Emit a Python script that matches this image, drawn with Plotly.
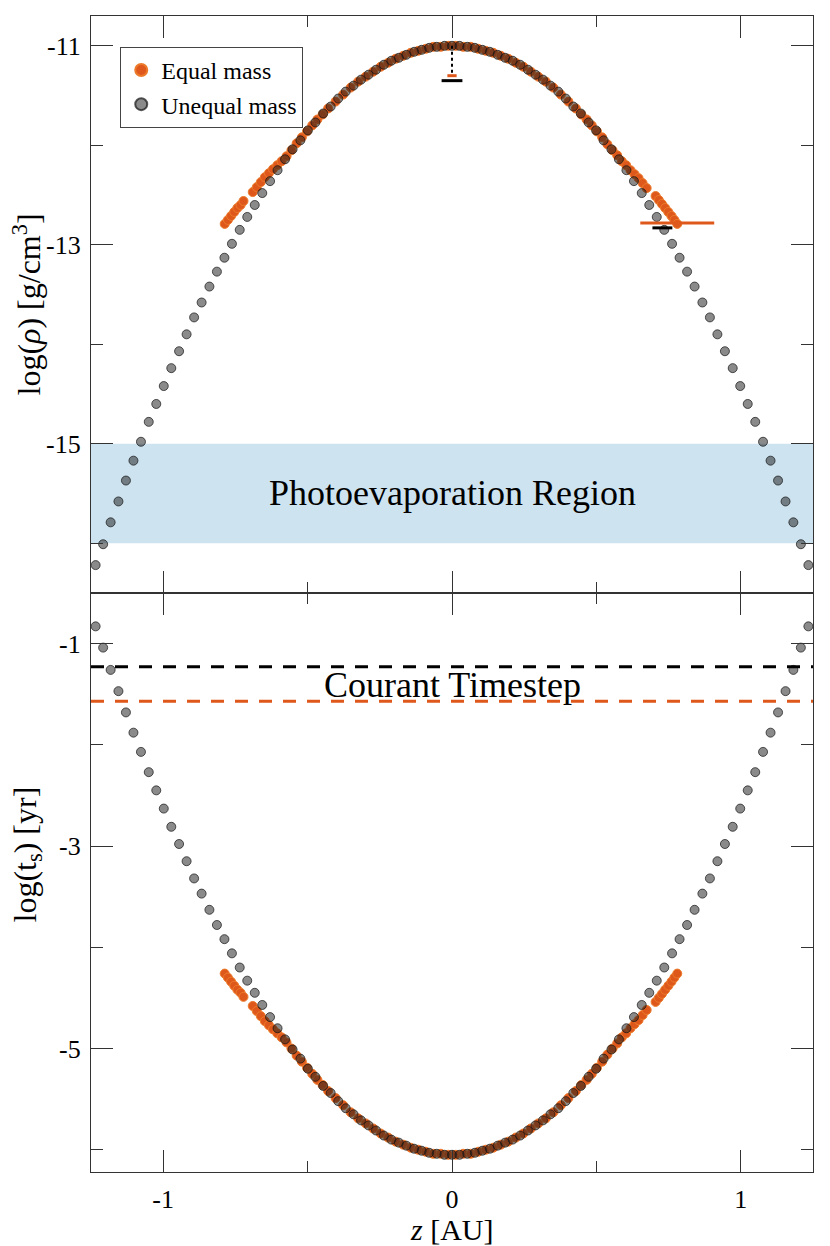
import plotly.graph_objects as go

# unequal mass run (grey)
z_uneq = [-1.234, -1.208, -1.182, -1.155, -1.129, -1.103, -1.077, -1.050, -1.024, -0.998,
          -0.972, -0.945, -0.919, -0.893, -0.867, -0.840, -0.814, -0.788, -0.762, -0.735,
          -0.709, -0.683, -0.657, -0.630, -0.604, -0.578, -0.552, -0.525, -0.499, -0.473,
          -0.446, -0.420, -0.394, -0.368, -0.341, -0.315, -0.289, -0.263, -0.236, -0.210,
          -0.184, -0.158, -0.131, -0.105, -0.079, -0.053, -0.026, 0.000,
          0.026, 0.053, 0.079, 0.105, 0.131, 0.158, 0.184, 0.210, 0.236, 0.263,
          0.289, 0.315, 0.341, 0.368, 0.394, 0.420, 0.446, 0.473, 0.499, 0.525,
          0.552, 0.578, 0.604, 0.630, 0.657, 0.683, 0.709, 0.735, 0.762, 0.788,
          0.814, 0.840, 0.867, 0.893, 0.919, 0.945, 0.972, 0.998, 1.024, 1.050,
          1.077, 1.103, 1.129, 1.155, 1.182, 1.208, 1.234]
rho_uneq = [-16.22, -16.01, -15.79, -15.58, -15.37, -15.17, -14.98, -14.78, -14.60, -14.42,
            -14.24, -14.07, -13.90, -13.73, -13.58, -13.42, -13.27, -13.13, -12.99, -12.85,
            -12.72, -12.60, -12.48, -12.36, -12.25, -12.14, -12.04, -11.95, -11.85, -11.77,
            -11.68, -11.61, -11.53, -11.46, -11.40, -11.34, -11.29, -11.24, -11.19, -11.15,
            -11.12, -11.09, -11.06, -11.04, -11.02, -11.01, -11.00, -11.00,
            -11.00, -11.01, -11.02, -11.04, -11.06, -11.09, -11.12, -11.15, -11.19, -11.24,
            -11.29, -11.34, -11.40, -11.46, -11.53, -11.61, -11.68, -11.77, -11.85, -11.95,
            -12.04, -12.14, -12.25, -12.36, -12.48, -12.60, -12.72, -12.85, -12.99, -13.13,
            -13.27, -13.42, -13.58, -13.73, -13.90, -14.07, -14.24, -14.42, -14.60, -14.78,
            -14.98, -15.17, -15.37, -15.58, -15.79, -16.01, -16.22]
ts_uneq = [-0.83, -1.04, -1.26, -1.47, -1.68, -1.88, -2.07, -2.27, -2.45, -2.63,
           -2.81, -2.98, -3.15, -3.32, -3.47, -3.63, -3.78, -3.92, -4.06, -4.20,
           -4.33, -4.45, -4.57, -4.69, -4.80, -4.91, -5.01, -5.10, -5.20, -5.28,
           -5.37, -5.44, -5.52, -5.59, -5.65, -5.71, -5.76, -5.81, -5.86, -5.90,
           -5.93, -5.96, -5.99, -6.01, -6.03, -6.04, -6.05, -6.05,
           -6.05, -6.04, -6.03, -6.01, -5.99, -5.96, -5.93, -5.90, -5.86, -5.81,
           -5.76, -5.71, -5.65, -5.59, -5.52, -5.44, -5.37, -5.28, -5.20, -5.10,
           -5.01, -4.91, -4.80, -4.69, -4.57, -4.45, -4.33, -4.20, -4.06, -3.92,
           -3.78, -3.63, -3.47, -3.32, -3.15, -2.98, -2.81, -2.63, -2.45, -2.27,
           -2.07, -1.88, -1.68, -1.47, -1.26, -1.04, -0.83]

# equal mass run (orange)
z_eq = [-0.787, -0.776, -0.765, -0.754, -0.743, -0.732, -0.722,
        -0.690, -0.676, -0.662, -0.648, -0.634, -0.620, -0.605, -0.590, -0.573, -0.556,
        -0.538, -0.520, -0.502, -0.484, -0.466, -0.448,
        -0.429, -0.403, -0.377, -0.351, -0.325, -0.299, -0.273, -0.247, -0.221, -0.195,
        -0.169, -0.143, -0.117, -0.091, -0.065, -0.039, -0.013,
        0.013, 0.039, 0.065, 0.091, 0.117, 0.143, 0.169, 0.195, 0.221, 0.247,
        0.273, 0.299, 0.325, 0.351, 0.377, 0.403, 0.429,
        0.448, 0.466, 0.484, 0.502, 0.520, 0.538, 0.556, 0.572, 0.588, 0.603,
        0.618, 0.632, 0.646, 0.660, 0.674,
        0.705, 0.716, 0.727, 0.738, 0.749, 0.760, 0.770, 0.780]
rho_eq = [-12.79, -12.75, -12.71, -12.67, -12.63, -12.60, -12.56,
          -12.47, -12.42, -12.37, -12.32, -12.28, -12.24, -12.20, -12.16, -12.11, -12.05,
          -11.98, -11.92, -11.86, -11.80, -11.74, -11.69,
          -11.63, -11.56, -11.49, -11.42, -11.36, -11.31, -11.26, -11.21, -11.17, -11.13,
          -11.10, -11.07, -11.05, -11.03, -11.01, -11.01, -11.00,
          -11.00, -11.01, -11.01, -11.03, -11.05, -11.07, -11.10, -11.13, -11.17, -11.21,
          -11.26, -11.31, -11.36, -11.42, -11.49, -11.56, -11.63,
          -11.69, -11.74, -11.80, -11.86, -11.92, -11.99, -12.05, -12.10, -12.16, -12.20,
          -12.25, -12.29, -12.33, -12.38, -12.43,
          -12.51, -12.55, -12.59, -12.63, -12.67, -12.71, -12.75, -12.79]
ts_eq = [-4.26, -4.30, -4.34, -4.38, -4.42, -4.45, -4.49,
         -4.58, -4.63, -4.68, -4.73, -4.77, -4.81, -4.85, -4.89, -4.94, -5.00,
         -5.07, -5.13, -5.19, -5.25, -5.31, -5.36,
         -5.42, -5.49, -5.56, -5.63, -5.69, -5.74, -5.79, -5.84, -5.88, -5.92,
         -5.95, -5.98, -6.00, -6.02, -6.04, -6.04, -6.05,
         -6.05, -6.04, -6.04, -6.02, -6.00, -5.98, -5.95, -5.92, -5.88, -5.84,
         -5.79, -5.74, -5.69, -5.63, -5.56, -5.49, -5.42,
         -5.36, -5.31, -5.25, -5.19, -5.13, -5.06, -5.00, -4.95, -4.89, -4.85,
         -4.80, -4.76, -4.72, -4.67, -4.62,
         -4.54, -4.50, -4.46, -4.42, -4.38, -4.34, -4.30, -4.26]

# resolution markers in the density panel
peak_drop_z = [0.0, 0.0]
peak_drop_rho = [-11.0, -11.28]
h_eq_peak_z = [-0.016, 0.016]
h_eq_peak_rho = [-11.30, -11.30]
h_uneq_peak_z = [-0.036, 0.036]
h_uneq_peak_rho = [-11.35, -11.35]
h_eq_edge_z = [0.652, 0.908]
h_eq_edge_rho = [-12.78, -12.78]
h_uneq_edge_z = [0.694, 0.763]
h_uneq_edge_rho = [-12.83, -12.83]

# courant timesteps
courant_uneq = -1.23
courant_eq = -1.57
photoevap_band = [-16.0, -15.0]

x_range = [-1.25, 1.25]
rho_range = [-16.5, -10.7]
ts_range = [-6.22, -0.5]

ORANGE = '#df581b'
FONT = 'Liberation Serif'
split = 0.5009

fig = go.Figure()

eq_marker = dict(size=9, color=ORANGE, line=dict(color='#ec7a2a', width=1))
uneq_marker = dict(size=9, color='rgba(30,30,30,0.52)', line=dict(color='rgba(20,20,20,0.7)', width=1))

fig.add_trace(go.Scatter(x=z_eq, y=rho_eq, mode='markers', marker=eq_marker,
                         name='Equal mass', xaxis='x2', yaxis='y2'))
fig.add_trace(go.Scatter(x=z_uneq, y=rho_uneq, mode='markers', marker=uneq_marker,
                         name='Unequal mass', xaxis='x2', yaxis='y2'))
fig.add_trace(go.Scatter(x=z_eq, y=ts_eq, mode='markers', marker=eq_marker,
                         showlegend=False, xaxis='x', yaxis='y'))
fig.add_trace(go.Scatter(x=z_uneq, y=ts_uneq, mode='markers', marker=uneq_marker,
                         showlegend=False, xaxis='x', yaxis='y'))

def seg(x, y, color, width, dash='solid', xa='x2', ya='y2'):
    fig.add_trace(go.Scatter(x=x, y=y, mode='lines', showlegend=False, hoverinfo='skip',
                             line=dict(color=color, width=width, dash=dash),
                             xaxis=xa, yaxis=ya))

seg(peak_drop_z, peak_drop_rho, 'black', 2, 'dot')
seg(h_eq_peak_z, h_eq_peak_rho, ORANGE, 3)
seg(h_uneq_peak_z, h_uneq_peak_rho, 'black', 3)
seg(h_eq_edge_z, h_eq_edge_rho, ORANGE, 3)
seg(h_uneq_edge_z, h_uneq_edge_rho, 'black', 3)
seg(x_range, [courant_uneq, courant_uneq], 'black', 3, '13px,11px', 'x', 'y')
seg(x_range, [courant_eq, courant_eq], ORANGE, 3, '13px,11px', 'x', 'y')

axis_common = dict(showline=True, linecolor='#333', linewidth=1.2, mirror='ticks',
                   ticks='inside', ticklen=22, tickwidth=1.2, tickcolor='#333',
                   showgrid=False, zeroline=False, ticklabelstandoff=4,
                   tickfont=dict(family=FONT, size=26, color='black'))

fig.update_layout(
    width=822, height=1238,
    margin=dict(l=83, r=17, t=8, b=74),
    paper_bgcolor='white', plot_bgcolor='white',
    font=dict(family=FONT, color='black'),
    xaxis=dict(axis_common, range=x_range, anchor='y', domain=[0, 1],
               tickmode='array', tickvals=[-1, 0, 1], ticktext=['-1', '0', '1'],
               minor=dict(tickmode='array', tickvals=[-0.5, 0.5], ticklen=11,
                          ticks='inside', tickcolor='#333')),
    xaxis2=dict(axis_common, range=x_range, anchor='y2', domain=[0, 1], showticklabels=False,
                tickmode='array', tickvals=[-1, 0, 1],
                minor=dict(tickmode='array', tickvals=[-0.5, 0.5], ticklen=11,
                           ticks='inside', tickcolor='#333')),
    yaxis=dict(axis_common, range=ts_range, anchor='x', domain=[0, split],
               tickmode='array', tickvals=[-1, -3, -5], ticktext=['-1', '-3', '-5'],
               minor=dict(tickmode='array', tickvals=[-2, -4, -6], ticklen=12,
                          ticks='inside', tickcolor='#333')),
    yaxis2=dict(axis_common, range=rho_range, anchor='x2', domain=[split, 1],
                tickmode='array', tickvals=[-11, -13, -15], ticktext=['-11', '-13', '-15'],
                minor=dict(tickmode='array', tickvals=[-12, -14, -16], ticklen=12,
                           ticks='inside', tickcolor='#333')),
    legend=dict(x=0.0405, y=0.9733, xanchor='left', yanchor='top',
                bgcolor='white', bordercolor='#444', borderwidth=1,
                font=dict(family=FONT, size=24, color='black'),
                itemsizing='constant', tracegroupgap=0, itemwidth=30),
    showlegend=True,
)

fig.add_shape(type='rect', xref='x2 domain', yref='y2', x0=0, x1=1,
              y0=photoevap_band[0], y1=photoevap_band[1],
              fillcolor='rgb(205,227,240)', line=dict(width=0), layer='below')

fig.add_annotation(x=0, y=-15.5, xref='x2', yref='y2', text='Photoevaporation Region',
                   showarrow=False, font=dict(family=FONT, size=36, color='black'))
fig.add_annotation(x=0, y=-1.41, xref='x', yref='y', text='Courant Timestep',
                   showarrow=False, font=dict(family=FONT, size=36, color='black'))

fig.add_annotation(x=0, y=(split + 1) / 2, xref='paper', yref='paper', xshift=-64,
                   xanchor='center', yanchor='middle',
                   text='log(<i>ρ</i>) [g/cm<sup>3</sup>]', textangle=-90, showarrow=False,
                   font=dict(family=FONT, size=32, color='black'))
fig.add_annotation(x=0, y=split / 2, xref='paper', yref='paper', xshift=-64, yshift=28,
                   xanchor='center', yanchor='middle',
                   text='log(t<sub>s</sub>) [yr]', textangle=-90, showarrow=False,
                   font=dict(family=FONT, size=32, color='black'))
fig.add_annotation(x=0.5, y=0, xref='paper', yref='paper', yshift=-57,
                   xanchor='center', yanchor='middle',
                   text='<i>z</i> [AU]', showarrow=False,
                   font=dict(family=FONT, size=30, color='black'))

fig.write_html('out.html')
